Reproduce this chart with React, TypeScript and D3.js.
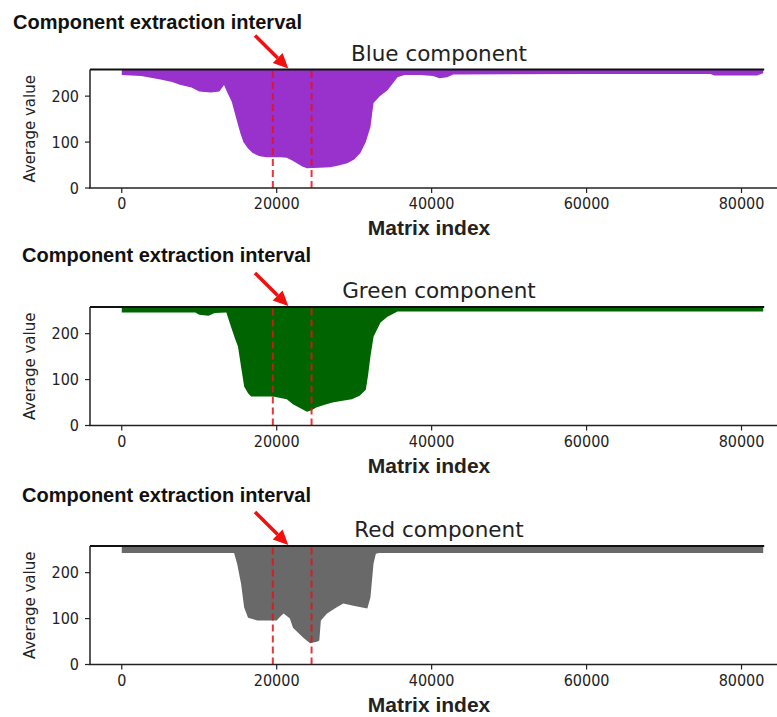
import React from 'react'
import * as d3 from 'd3'

// average value per matrix index
const blueSeries: [number, number][] = [
	[0, 246], [2500, 244], [5000, 236], [6500, 231], [7500, 225], [9000, 219], [10000, 210],
	[11500, 208], [12600, 210], [13200, 224], [13700, 205], [14200, 188], [14800, 150],
	[15300, 120], [15700, 100], [16300, 86], [16900, 76], [17800, 69], [18700, 67],
	[20500, 67], [21300, 66], [22000, 60], [22600, 54], [23300, 47], [23900, 43],
	[25500, 44], [26900, 45], [28000, 49], [29100, 54], [30000, 62], [30800, 76],
	[31500, 100], [32100, 133], [32500, 185], [33300, 200], [34300, 213], [35000, 228],
	[35600, 241], [36500, 246], [38500, 246], [40200, 244], [41000, 239], [42000, 241],
	[42800, 247], [60000, 248], [76000, 248], [76500, 245], [82000, 245], [82800, 250],
]

const greenSeries: [number, number][] = [
	[0, 246], [9500, 246], [10000, 241], [11200, 239], [12000, 245], [13500, 246],
	[14100, 215], [14600, 190], [15000, 172], [15400, 128], [15800, 85], [16300, 70],
	[16700, 63], [19500, 63], [20500, 60], [21300, 57], [22100, 46], [23000, 38],
	[23900, 30], [24500, 33], [25100, 39], [26200, 45], [27200, 50], [28500, 54],
	[29700, 57], [30700, 65], [31500, 78], [31800, 110], [32100, 150], [32500, 193],
	[33400, 224], [34300, 237], [35600, 248], [82800, 248],
]

const redSeries: [number, number][] = [
	[0, 243], [14500, 243], [14900, 219], [15400, 176], [15800, 124], [16300, 102],
	[17500, 96], [20000, 96], [20500, 105], [20900, 111], [21700, 100], [22100, 80],
	[23400, 59], [24300, 46], [25300, 50], [25500, 52], [25700, 96], [26500, 111],
	[27700, 124], [28600, 133], [29900, 128], [31700, 122], [32100, 146], [32500, 220],
	[32800, 241], [33200, 243], [82800, 243],
]

const xTicks = [0, 20000, 40000, 60000, 80000]
const yTicks = [0, 100, 200]
const interval = [19500, 24500]
const arrowFrom = 17200
const arrowTo = 21500
const xEnd = 82800

const panels = [
	{title: 'Blue component', color: '#9932CC', data: blueSeries, top: 69.5, headX: 13, headDy: -41},
	{title: 'Green component', color: '#006400', data: greenSeries, top: 307, headX: 22, headDy: -45},
	{title: 'Red component', color: '#696969', data: redSeries, top: 546, headX: 22, headDy: -44},
]

const W = 777
const H = 717
const plotH = 118.5
const tickFont = "'DejaVu Sans Condensed', 'DejaVu Sans', sans-serif"
const boldFont = "'Liberation Sans', Arial, sans-serif"

const x = d3.scaleLinear().domain([-4100, 86000]).range([90, 788])

function Panel({p}) {
	const y = d3.scaleLinear().domain([0, 258]).range([p.top + plotH, p.top])
	const area = d3.area()
		.x(d => x(d[0]))
		.y0(y(258))
		.y1(d => y(d[1]))
	const bottom = p.top + plotH
	return (
		<g>
			<text x={p.headX} y={p.top + p.headDy} fontFamily={boldFont} fontWeight="bold" fontSize={20} fill="#111">
				Component extraction interval
			</text>
			<text x={439} y={p.top - 9} textAnchor="middle" fontFamily="'DejaVu Sans', sans-serif" fontSize={21.5} fill="#222">
				{p.title}
			</text>
			<path d={area(p.data)} fill={p.color}/>
			{interval.map(v => (
				<line key={v} x1={x(v)} x2={x(v)} y1={bottom} y2={p.top} stroke="#e8101a" strokeWidth={2}
					strokeDasharray="7,4" opacity={0.85}/>
			))}
			{/* frame: top line, left spine, bottom spine */}
			<line x1={90} x2={x(xEnd) + 1} y1={p.top} y2={p.top} stroke="#111" strokeWidth={2}/>
			<line x1={90} x2={90} y1={p.top} y2={bottom} stroke="#222" strokeWidth={1.5}/>
			<line x1={89} x2={W} y1={bottom} y2={bottom} stroke="#222" strokeWidth={1.5}/>
			{yTicks.map(t => (
				<g key={t}>
					<line x1={85} x2={90} y1={y(t)} y2={y(t)} stroke="#222" strokeWidth={1.2}/>
					<text x={79} y={y(t) + 5.5} textAnchor="end" fontFamily={tickFont} fontStretch="condensed" fontSize={16} fill="#222">{t}</text>
				</g>
			))}
			{xTicks.map(t => (
				<g key={t}>
					<line x1={x(t)} x2={x(t)} y1={bottom} y2={bottom + 5} stroke="#222" strokeWidth={1.2}/>
					<text x={x(t)} y={bottom + 21} textAnchor="middle" fontFamily={tickFont} fontStretch="condensed" fontSize={16} fill="#222">{t}</text>
				</g>
			))}
			<text transform={`translate(35,${p.top + plotH / 2}) rotate(-90)`} textAnchor="middle"
				fontFamily="'DejaVu Sans', sans-serif" fontSize={15} fill="#222">Average value</text>
			<text x={429} y={bottom + 47} textAnchor="middle" fontFamily={boldFont} fontWeight="bold" fontSize={21} fill="#222">
				Matrix index
			</text>
			<Arrow x1={x(arrowFrom)} y1={p.top - 34} x2={x(arrowTo)} y2={p.top - 1}/>
		</g>
	)
}

function Arrow({x1, y1, x2, y2}) {
	const ang = Math.atan2(y2 - y1, x2 - x1)
	const len = 15
	const half = 7
	const bx = x2 - len * Math.cos(ang)
	const by = y2 - len * Math.sin(ang)
	const px = -Math.sin(ang) * half
	const py = Math.cos(ang) * half
	return (
		<g>
			<line x1={x1} y1={y1} x2={bx} y2={by} stroke="#f01010" strokeWidth={3.5}/>
			<path d={`M${x2},${y2}L${bx + px},${by + py}L${bx - px},${by - py}Z`} fill="#f01010"/>
		</g>
	)
}

export default function App() {
	return (
		<svg width={W} height={H} viewBox={`0 0 ${W} ${H}`}
			style={{position: 'absolute', left: 0, top: 0, display: 'block', background: '#fff'}}>
			{panels.map(p => <Panel key={p.title} p={p}/>)}
		</svg>
	)
}
